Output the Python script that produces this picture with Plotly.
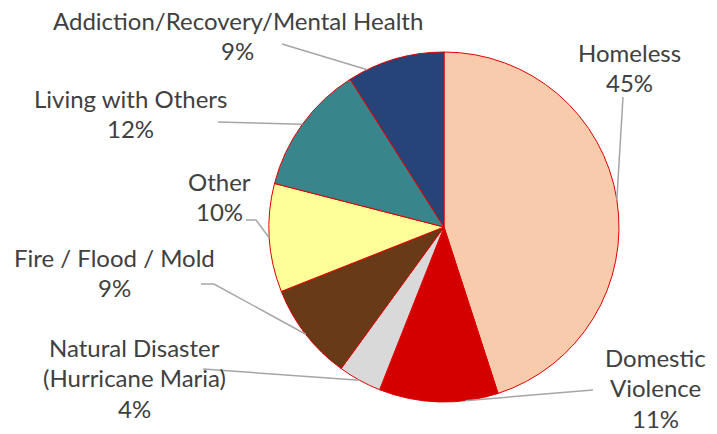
import math
import plotly.graph_objects as go

# ---- data ----
categories = ["Homeless", "Domestic Violence", "Natural Disaster (Hurricane Maria)",
              "Fire / Flood / Mold", "Other", "Living with Others",
              "Addiction/Recovery/Mental Health"]
values = [45, 11, 4, 9, 10, 12, 9]
label_lines = [["Homeless"], ["Domestic", "Violence"], ["Natural Disaster", "(Hurricane Maria)"],
               ["Fire / Flood / Mold"], ["Other"], ["Living with Others"],
               ["Addiction/Recovery/Mental Health"]]
colors = ["#F8CBAD", "#D40000", "#D9D9D9", "#683A18", "#FFFF99", "#39858C", "#264478"]

# ---- layout (pixels) ----
W, H = 717, 434
CX, CY, R = 444, 227, 175
# label text centre x, y of first line (pixels)
label_pos = [(629, 52), (655, 357), (134, 347), (114, 257), (219, 181), (130, 98), (238, 20)]
LINE_H = 30.5
# leader line start points (label side), optional elbow, and angular offset at pie edge
leader_start = [[(623, 97)], [(593, 390)], [(203, 369)], [(201, 284), (214, 284)],
                [(246, 220), (256, 220)], [(218, 122)], [(282, 44)]]
attach_offset = [0, -8.8, 0, 0, 0, 0, -9.8]


def px(x):
    return x / W


def py(y):
    return 1 - y / H


fig = go.Figure(go.Pie(
    labels=categories, values=values, sort=False, direction="clockwise", rotation=0,
    marker=dict(colors=colors, line=dict(color="#E00000", width=1)),
    textinfo="none", hoverinfo="label+percent", showlegend=False,
    domain=dict(x=[px(CX - R), px(CX + R)], y=[py(CY + R), py(CY - R)]),
))

total = sum(values)
annotations = []
shapes = []
cum = 0
for i, v in enumerate(values):
    mid = (cum + v / 2) / total * 360 + attach_offset[i]
    cum += v
    ex = CX + R * math.sin(math.radians(mid))
    ey = CY - R * math.cos(math.radians(mid))
    pts = leader_start[i] + [(ex, ey)]
    path = "M " + " L ".join(f"{px(x)},{py(y)}" for x, y in pts)
    shapes.append(dict(type="path", xref="paper", yref="paper", path=path,
                       line=dict(color="#A6A6A6", width=1.5)))
    lx, ly = label_pos[i]
    lines = label_lines[i] + [f"{round(v / total * 100)}%"]
    for k, t in enumerate(lines):
        annotations.append(dict(text=t, x=px(lx), y=py(ly + k * LINE_H), xref="paper", yref="paper",
                                showarrow=False, xanchor="center", yanchor="middle", borderpad=0,
                                font=dict(family="Lato", size=24, color="#404040")))

fig.update_layout(width=W, height=H, margin=dict(l=0, r=0, t=0, b=0),
                  paper_bgcolor="white", plot_bgcolor="white",
                  annotations=annotations, shapes=shapes)
fig.write_html("out.html", config={"displayModeBar": False},
               post_script="document.body.style.margin='0';")
